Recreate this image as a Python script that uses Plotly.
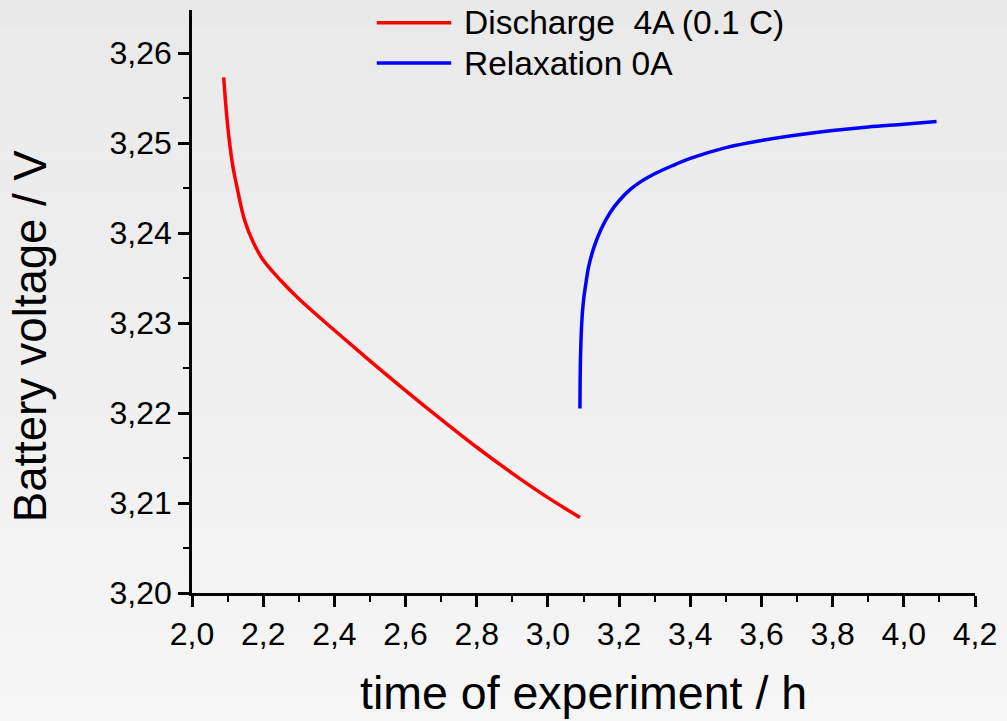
import plotly.graph_objects as go

# ---- data ----
discharge_t = [2.089, 2.095, 2.103, 2.114, 2.128, 2.148, 2.173, 2.200, 2.250, 2.300,
               2.400, 2.500, 2.600, 2.700, 2.800, 2.900, 3.000, 3.090]
discharge_v = [3.2573, 3.2542, 3.2509, 3.2476, 3.2448, 3.2414, 3.2389, 3.2370, 3.2347, 3.2327,
               3.2292, 3.2258, 3.2225, 3.2193, 3.2162, 3.2133, 3.2106, 3.2084]

relax_t = [3.090, 3.0905, 3.092, 3.095, 3.100, 3.107, 3.114, 3.130, 3.150, 3.175,
           3.200, 3.230, 3.260, 3.300, 3.350, 3.400, 3.500, 3.600, 3.700, 3.800,
           3.900, 4.000, 4.092]
relax_v = [3.2205, 3.2235, 3.2268, 3.2300, 3.2325, 3.2345, 3.2362, 3.2385, 3.2405, 3.2423,
           3.2436, 3.2448, 3.2457, 3.2466, 3.2475, 3.2483, 3.2495, 3.2503, 3.2509, 3.2514,
           3.2518, 3.2521, 3.2524]

series_names = ["Discharge  4A (0.1 C)", "Relaxation 0A"]
series_colors = ["#ff0000", "#0000ff"]

x_title = "time of experiment / h"
y_title = "Battery voltage / V"

FONT = "Liberation Sans, Arial, sans-serif"

fig = go.Figure()
fig.add_trace(go.Scatter(x=discharge_t, y=discharge_v, mode="lines", name=series_names[0],
                         line=dict(color=series_colors[0], width=3.5, shape="spline", smoothing=1.0),
                         showlegend=False))
fig.add_trace(go.Scatter(x=relax_t, y=relax_v, mode="lines", name=series_names[1],
                         line=dict(color=series_colors[1], width=3.5, shape="spline", smoothing=1.0),
                         showlegend=False))

# background gradient (light gray, darker at top)
shapes = []
n = 40
y_lo, y_hi = -0.23, 1.03
for i in range(n):
    f = i / (n - 1)
    c = int(round(246 - 13 * f))
    shapes.append(dict(type="rect", xref="paper", yref="paper", layer="below",
                       x0=-0.26, x1=1.05,
                       y0=y_lo + (y_hi - y_lo) * i / n, y1=y_lo + (y_hi - y_lo) * (i + 1) / n,
                       fillcolor=f"rgb({c},{c},{c})", line=dict(width=0)))

# manual legend
leg_y = [0.978, 0.909]
annotations = []
for name, col, yy in zip(series_names, series_colors, leg_y):
    shapes.append(dict(type="line", xref="paper", yref="paper", x0=0.236, x1=0.331,
                       y0=yy, y1=yy, line=dict(color=col, width=3.5)))
    annotations.append(dict(xref="paper", yref="paper", x=0.345, y=yy, text=name,
                            showarrow=False, xanchor="left", yanchor="middle",
                            font=dict(family=FONT, size=33.5, color="black")))

annotations.append(dict(xref="paper", yref="paper", x=0.5, y=-0.172, text=x_title,
                        showarrow=False, xanchor="center", yanchor="middle",
                        font=dict(family=FONT, size=46.5, color="black")))
annotations.append(dict(xref="paper", yref="paper", x=-0.206, y=0.44, text=y_title,
                        showarrow=False, xanchor="center", yanchor="middle", textangle=-90,
                        font=dict(family=FONT, size=45.5, color="black")))

axis_common = dict(showline=True, linecolor="black", linewidth=2.5, showgrid=False,
                   zeroline=False, ticks="outside", ticklen=11, tickwidth=2.5,
                   tickcolor="black", mirror=False,
                   tickfont=dict(family=FONT, size=32, color="black"))

fig.update_layout(
    width=1007, height=721,
    margin=dict(l=192, r=25, t=10, b=128),
    paper_bgcolor="rgb(240,240,240)",
    plot_bgcolor="rgba(0,0,0,0)",
    separators=",.",
    shapes=shapes,
    annotations=annotations,
    showlegend=False,
    xaxis=dict(range=[2.0, 4.2], dtick=0.2, tick0=2.0, tickformat=".1f",
               minor=dict(dtick=0.1, ticklen=6, tickwidth=2, tickcolor="black", ticks="outside"),
               **axis_common),
    yaxis=dict(range=[3.20, 3.2648], dtick=0.01, tick0=3.20, tickformat=".2f",
               minor=dict(dtick=0.005, ticklen=6, tickwidth=2, tickcolor="black", ticks="outside"),
               **axis_common),
)

fig.write_html("out.html")
